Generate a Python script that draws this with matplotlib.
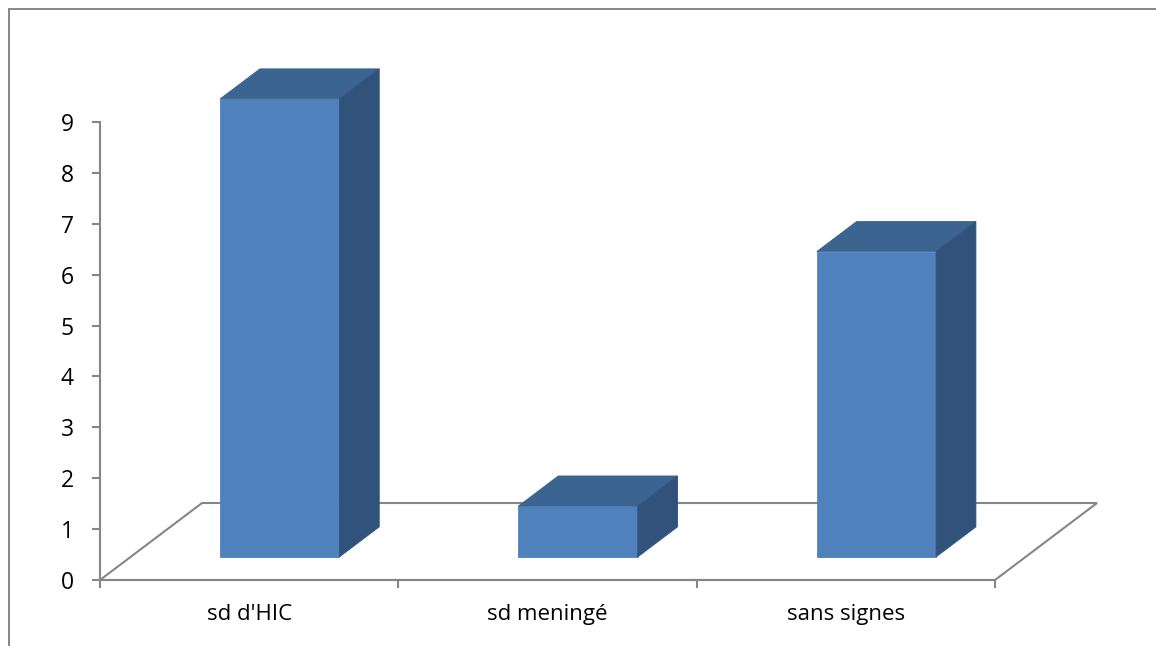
import matplotlib

matplotlib.use("Agg")
import matplotlib.pyplot as plt
from matplotlib.patches import Polygon, Rectangle

categories = ["sd d'HIC", "sd meningé", "sans signes"]
values = [9, 1, 6]
y_ticks = [0, 1, 2, 3, 4, 5, 6, 7, 8, 9]

FRONT = "#4f81bd"
TOP = "#3c6490"
SIDE = "#31527b"
GRID = "#868686"

W, H = 1156, 646
fig = plt.figure(figsize=(W / 100, H / 100), dpi=100)
fig.patch.set_facecolor("white")

# outer chart-area frame (right and bottom edges fall off the canvas)
fig.add_artist(Rectangle((9 / W, -0.05), 1.1, 1 - 9 / H + 0.05, transform=fig.transFigure,
                         fill=False, edgecolor=GRID, linewidth=1.4))

# front plane of the floor: x 0..3 categories, y 0..9 values
ax = fig.add_axes([100 / W, 1 - 580 / H, (995 - 100) / W, (580 - 122) / H])
ax.set_xlim(0, len(categories))
ax.set_ylim(0, max(y_ticks))
ax.set_facecolor("none")

# depth vector of the floor in data units, and where the bars sit inside it
depth_x, depth_y = 0.342, 1.513
d_front, d_back = 0.30, 0.69
bar_lo, bar_hi = 0.3, 0.7

n = len(categories)
floor = Polygon([(0, 0), (n, 0), (n + depth_x, depth_y), (depth_x, depth_y)],
                closed=True, fill=False, edgecolor=GRID, linewidth=1.5, clip_on=False, zorder=1)
ax.add_patch(floor)


def shift(x, y, d):
    return x + d * depth_x, y + d * depth_y


for i, v in enumerate(values):
    x0, x1 = i + bar_lo, i + bar_hi
    fl, fb = shift(x0, 0, d_front)
    fr, _ = shift(x1, 0, d_front)
    ft = v + d_front * depth_y
    bl, _ = shift(x0, 0, d_back)
    br, bb = shift(x1, 0, d_back)
    bt = v + d_back * depth_y
    front = [(fl, fb), (fr, fb), (fr, ft), (fl, ft)]
    top = [(fl, ft), (fr, ft), (br, bt), (bl, bt)]
    side = [(fr, fb), (br, bb), (br, bt), (fr, ft)]
    for pts, col in ((front, FRONT), (top, TOP), (side, SIDE)):
        ax.add_patch(Polygon(pts, closed=True, facecolor=col, edgecolor=col,
                             linewidth=0.6, clip_on=False, zorder=3))

for side_name in ("top", "right"):
    ax.spines[side_name].set_visible(False)
for side_name in ("left", "bottom"):
    ax.spines[side_name].set_color(GRID)
    ax.spines[side_name].set_linewidth(1.5)

font = ["Open Sans", "DejaVu Sans"]
ax.set_yticks(y_ticks)
ax.set_yticklabels([str(t) for t in y_ticks], fontsize=16.5, family=font)
ax.tick_params(axis="y", direction="out", length=6, width=1.5, color=GRID, pad=13)

ax.set_xticks(range(n + 1))
ax.set_xticklabels([])
ax.tick_params(axis="x", which="major", direction="out", length=6, width=1.5, color=GRID)
ax.set_xticks([i + 0.5 for i in range(n)], minor=True)
ax.set_xticklabels(categories, minor=True, fontsize=16, family=font)
ax.tick_params(axis="x", which="minor", length=0, pad=17)

fig.savefig("out.png", dpi=100)
